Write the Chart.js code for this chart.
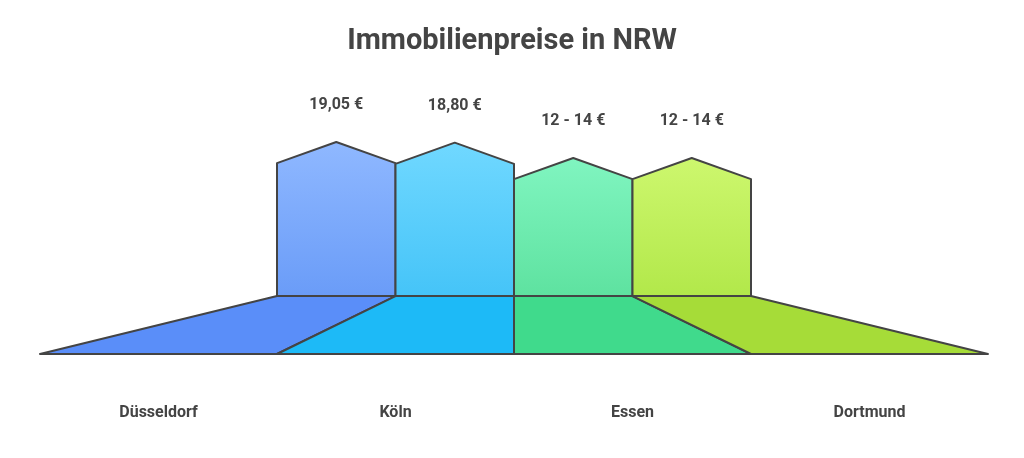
<!DOCTYPE html>
<html><head><meta charset="utf-8">
<script src="https://cdn.jsdelivr.net/npm/chart.js@4"></script>
<style>html,body{margin:0;background:#fff}#wrap{width:1024px;height:458px}</style>
</head><body><div id="wrap"><canvas id="c"></canvas></div>
<script>
const cities = ["Düsseldorf", "Köln", "Essen", "Dortmund"];
const prices = [19.05, 18.80, 13, 13];
const priceLabels = ["19,05 €", "18,80 €", "12 - 14 €", "12 - 14 €"];
const houseTop = ["#8fb8ff", "#70d8ff", "#80f5c0", "#cdf76e"];
const houseBottom = ["#6a9cf8", "#45c4f8", "#5ee2a0", "#b2e84a"];
const baseColor = ["#5a8ef9", "#1dbaf7", "#40da8c", "#a6dc38"];

const BASE = -39.2, FLOOR = -61.1, ROOF = 8;
// house centres (in x units) and label positions
const houseX = [1.25, 1.75, 2.25, 2.75];
const labelX = [0.5, 1.5, 2.5, 3.5];

const housePlugin = {
  id: "houses",
  afterDatasetsDraw(chart) {
    const ctx = chart.ctx, xs = chart.scales.x, ys = chart.scales.y;
    const yb = ys.getPixelForValue(BASE), yf = ys.getPixelForValue(FLOOR);
    ctx.save();
    ctx.lineWidth = 2; ctx.strokeStyle = "#444"; ctx.lineJoin = "round";
    chart.getDatasetMeta(0).data.forEach((bar, i) => {
      const l = bar.x - bar.width / 2, r = bar.x + bar.width / 2;
      const peak = ys.getPixelForValue(prices[i]);
      const wall = ys.getPixelForValue(prices[i] - ROOF);
      const g = ctx.createLinearGradient(0, peak, 0, yb);
      g.addColorStop(0, houseTop[i]); g.addColorStop(1, houseBottom[i]);
      ctx.beginPath();
      ctx.moveTo(l, yb); ctx.lineTo(l, wall); ctx.lineTo(bar.x, peak);
      ctx.lineTo(r, wall); ctx.lineTo(r, yb); ctx.closePath();
      ctx.fillStyle = g; ctx.fill(); ctx.stroke();
      // base trapezoid
      const bl = xs.getPixelForValue(i), br = xs.getPixelForValue(i + 1);
      ctx.beginPath();
      ctx.moveTo(l, yb); ctx.lineTo(r, yb); ctx.lineTo(br, yf); ctx.lineTo(bl, yf);
      ctx.closePath();
      ctx.fillStyle = baseColor[i]; ctx.fill(); ctx.stroke();
      ctx.fillStyle = "#444"; ctx.textAlign = "center"; ctx.textBaseline = "middle";
      ctx.font = "bold 16px Roboto";
      ctx.fillText(priceLabels[i], bar.x, peak - 37);
      ctx.fillText(cities[i], xs.getPixelForValue(labelX[i]), 413);
    });
    ctx.font = "bold 29px Roboto";
    ctx.fillText("Immobilienpreise in NRW", chart.width / 2, 42);
    ctx.restore();
  }
};

new Chart(document.getElementById("c"), {
  type: "bar",
  data: {
    datasets: [{
      data: houseX.map((x, i) => ({ x: x, y: [BASE, prices[i]] })),
      backgroundColor: "rgba(0,0,0,0)",
      barPercentage: 1, categoryPercentage: 1
    }]
  },
  options: {
    responsive: true, maintainAspectRatio: false, animation: false,
    layout: { padding: { top: 142, bottom: 104, left: 40, right: 36 } },
    plugins: { legend: { display: false }, tooltip: { enabled: false }, title: { display: false } },
    scales: {
      x: { type: "linear", min: 0, max: 4, offset: false, display: false },
      y: { min: FLOOR, max: 19.05, display: false }
    }
  },
  plugins: [housePlugin]
});
</script></body></html>
